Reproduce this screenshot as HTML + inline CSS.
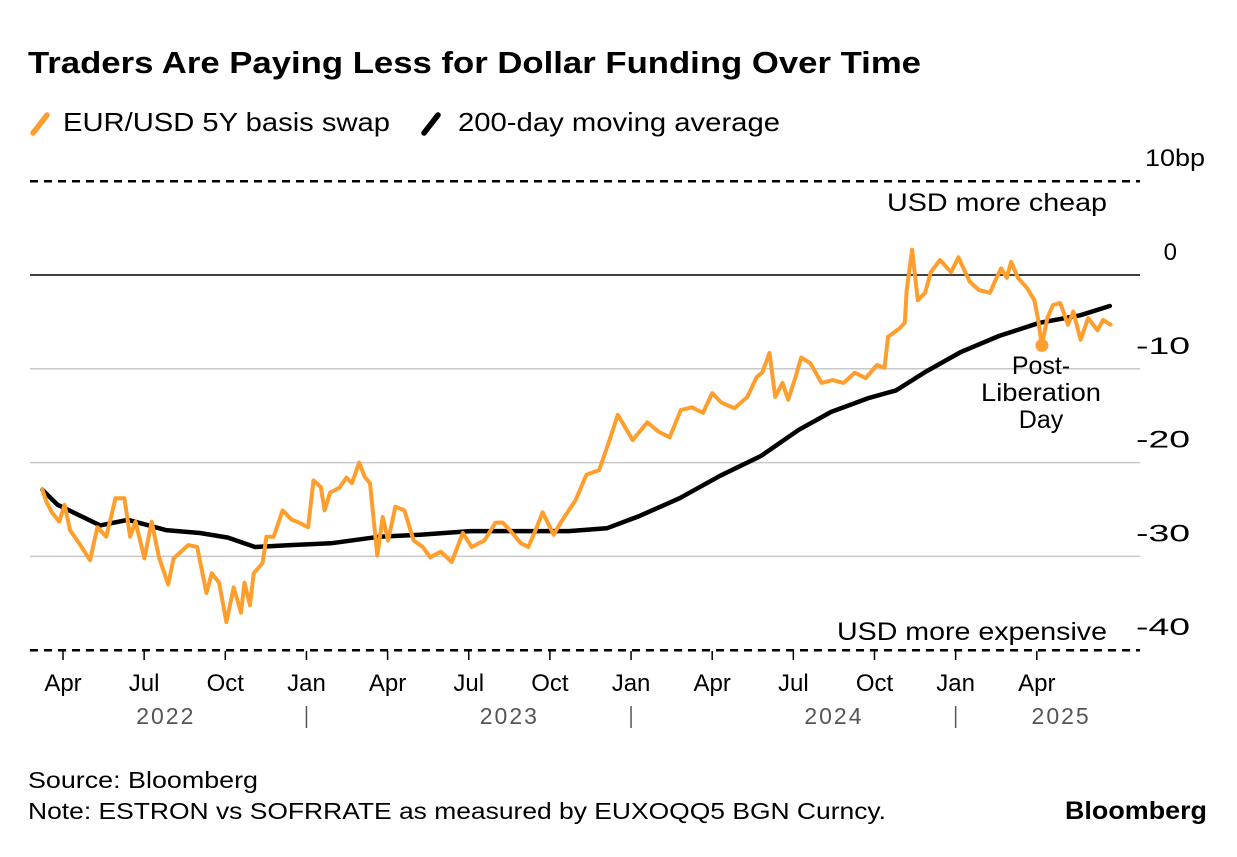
<!DOCTYPE html>
<html><head><meta charset="utf-8">
<style>
body{margin:0;background:#fff;font-family:"Liberation Sans",sans-serif;}
svg text{font-family:"Liberation Sans",sans-serif;}
</style></head>
<body>
<svg id="chart" width="1237" height="852" viewBox="0 0 1237 852" xmlns="http://www.w3.org/2000/svg">
<text x="28" y="73" font-size="31" font-weight="bold" fill="#000" textLength="893" lengthAdjust="spacingAndGlyphs">Traders Are Paying Less for Dollar Funding Over Time</text>
<g>
<line x1="33" y1="133" x2="47" y2="115" stroke="#ff9e2c" stroke-width="5.5" stroke-linecap="round"/>
<text x="63" y="131" font-size="26" fill="#000" textLength="327" lengthAdjust="spacingAndGlyphs">EUR/USD 5Y basis swap</text>
<line x1="424" y1="133" x2="438" y2="115" stroke="#000" stroke-width="5.5" stroke-linecap="round"/>
<text x="458" y="131" font-size="26" fill="#000" textLength="322" lengthAdjust="spacingAndGlyphs">200-day moving average</text>
</g>
<g id="grid"></g>
<g id="series"></g>
<g id="xaxis"></g>
<text x="1107" y="211" font-size="25" text-anchor="end" fill="#000" textLength="220" lengthAdjust="spacingAndGlyphs">USD more cheap</text>
<text x="1107" y="640" font-size="25" text-anchor="end" fill="#000" textLength="270" lengthAdjust="spacingAndGlyphs">USD more expensive</text>
<g font-size="25" text-anchor="middle" fill="#000">
<text x="1041" y="374">Post-</text>
<text x="1041" y="401" textLength="120" lengthAdjust="spacingAndGlyphs">Liberation</text>
<text x="1041" y="428">Day</text>
</g>
<text x="28" y="788" font-size="23" fill="#000" textLength="230" lengthAdjust="spacingAndGlyphs">Source: Bloomberg</text>
<text x="28" y="819" font-size="23" fill="#000" textLength="858" lengthAdjust="spacingAndGlyphs">Note: ESTRON vs SOFRRATE as measured by EUXOQQ5 BGN Curncy.</text>
<text x="1207" y="819" font-size="25" font-weight="bold" text-anchor="end" fill="#000" textLength="142" lengthAdjust="spacingAndGlyphs">Bloomberg</text>
</svg>
<script>
// months since Jan 2022 (0 = Jan 1 2022)
const swapMonths=[2.24,2.39,2.59,2.86,3.06,3.26,3.6,4.0,4.27,4.6,4.94,5.27,5.48,5.68,6.01,6.28,6.55,6.89,7.09,7.63,7.96,8.3,8.5,8.77,9.04,9.31,9.58,9.71,9.91,10.05,10.38,10.52,10.79,11.12,11.46,11.73,12.06,12.26,12.53,12.67,12.87,13.21,13.48,13.68,13.95,14.15,14.35,14.62,14.82,15.02,15.29,15.62,15.96,16.3,16.57,16.97,17.37,17.78,18.11,18.58,18.99,19.26,19.52,19.93,20.2,20.47,20.73,21.14,21.4,21.95,22.35,22.82,23.17,23.51,24.06,24.6,25.01,25.43,25.84,26.25,26.66,27.0,27.34,27.82,28.3,28.64,28.85,29.12,29.33,29.6,29.81,30.08,30.29,30.63,31.04,31.45,31.86,32.27,32.68,33.09,33.37,33.5,33.92,34.12,34.19,34.39,34.6,34.87,35.08,35.42,35.83,36.1,36.52,36.86,37.27,37.48,37.68,37.89,38.05,38.3,38.64,38.91,39.05,39.19,39.39,39.6,39.87,40.15,40.35,40.62,40.9,41.24,41.45,41.73];
const swapValues=[-22.9,-24.2,-25.3,-26.3,-24.5,-27.2,-28.6,-30.4,-26.9,-27.9,-23.8,-23.8,-27.9,-26.3,-30.2,-26.3,-30.1,-33.0,-30.2,-28.8,-29.0,-33.9,-31.8,-32.8,-37.0,-33.3,-36.0,-32.8,-35.2,-31.8,-30.7,-27.9,-27.9,-25.1,-26.1,-26.4,-26.9,-21.9,-22.6,-25.1,-23.2,-22.7,-21.6,-22.2,-20.0,-21.5,-22.2,-29.9,-25.8,-28.3,-24.7,-25.1,-28.3,-29.0,-30.1,-29.5,-30.6,-27.5,-29.0,-28.3,-26.4,-26.4,-27.2,-28.6,-29.0,-27.2,-25.3,-27.7,-26.4,-24.0,-21.3,-20.8,-17.9,-14.9,-17.6,-15.7,-16.7,-17.3,-14.4,-14.1,-14.7,-12.6,-13.6,-14.2,-13.0,-10.9,-10.4,-8.3,-13.0,-11.5,-13.3,-10.9,-8.8,-9.4,-11.5,-11.2,-11.5,-10.4,-11.0,-9.6,-9.9,-6.6,-5.7,-5.1,-1.6,2.7,-2.7,-1.9,0.3,1.6,0.3,1.9,-0.7,-1.6,-1.9,-0.5,0.7,-0.3,1.4,-0.3,-1.4,-2.7,-4.8,-7.5,-4.6,-3.2,-3.0,-5.3,-3.9,-6.9,-4.6,-5.9,-4.8,-5.3];
const maMonths=[2.24,2.8,4.37,5.4,6.8,8.06,9.1,10.1,11.4,12.9,14.7,16.2,18.05,19.9,21.7,23.1,24.3,25.8,27.3,28.8,30.2,31.4,32.8,33.8,34.9,36.2,37.6,39.1,40.6,41.7];
const maValues=[-22.9,-24.5,-26.7,-26.1,-27.2,-27.5,-28.0,-29.0,-28.8,-28.6,-27.9,-27.7,-27.3,-27.3,-27.3,-27.0,-25.7,-23.8,-21.4,-19.3,-16.5,-14.6,-13.1,-12.3,-10.3,-8.2,-6.5,-5.1,-4.3,-3.3];
const yTicks=[10,0,-10,-20,-30,-40];
const yTickLabels=["10bp","0","-10","-20","-30","-40"];
const xTickMonths=[3,6,9,12,15,18,21,24,27,30,33,36,39];
const xTickLabels=["Apr","Jul","Oct","Jan","Apr","Jul","Oct","Jan","Apr","Jul","Oct","Jan","Apr"];
const yearLabels=["2022","2023","2024","2025"];
const yearMonths=[6.8,19.5,31.5,39.9];
const yearSepMonths=[12,24,36];
const postLibMonth=39.19, postLibValue=-7.5;

const NS="http://www.w3.org/2000/svg";
const X=m=>63+(m-3)*27.05;
const Y=v=>275-v*9.38;
function mk(tag,attrs,parent){const e=document.createElementNS(NS,tag);for(const k in attrs)e.setAttribute(k,attrs[k]);parent.appendChild(e);return e;}
const grid=document.getElementById('grid'),series=document.getElementById('series'),xa=document.getElementById('xaxis');
yTicks.forEach((v,i)=>{
  const dashed=(v===10||v===-40), zero=v===0;
  const ln=mk('line',{x1:30,x2:1140,y1:Y(v),y2:Y(v),stroke:dashed||zero?'#000':'#c8c8c8','stroke-width':dashed?2.5:1.5,'stroke-dasharray':dashed?'8,6':'none'},grid);
  
  
  const rx = v===10?1205:(v===0?1177:1190);
  const attrs={x:rx,y:Y(v)-15,'font-size':24,'text-anchor':'end',fill:'#000'};
  if(v<0){attrs.textLength=54;attrs.lengthAdjust='spacingAndGlyphs';}
  if(v===10){attrs.textLength=60;attrs.lengthAdjust='spacingAndGlyphs';}
  const t=mk('text',attrs,grid);
  t.textContent=yTickLabels[i];
  
  
});
function path(ms,vs){return ms.map((m,i)=>(i?'L':'M')+X(m).toFixed(1)+','+Y(vs[i]).toFixed(1)).join('');}
const ma=mk('path',{d:path(maMonths,maValues),fill:'none',stroke:'#000','stroke-width':4.5,'stroke-linejoin':'round','stroke-linecap':'round'},series);


const sw=mk('path',{d:path(swapMonths,swapValues),fill:'none',stroke:'#ff9e2c','stroke-width':4,'stroke-linejoin':'round','stroke-linecap':'round'},series);


const dot=mk('circle',{cx:X(postLibMonth),cy:Y(postLibValue),r:6.5,fill:'#ff9e2c'},series);


xTickMonths.forEach((m,i)=>{
  const tk=mk('line',{x1:X(m),x2:X(m),y1:651,y2:660,stroke:'#000','stroke-width':1.5},xa);
  
  
  const t=mk('text',{x:X(m),y:691,'font-size':24,'text-anchor':'middle',fill:'#000'},xa);
  t.textContent=xTickLabels[i];
  
  
});
yearLabels.forEach((y,i)=>{
  const t=mk('text',{x:X(yearMonths[i]),y:724,'font-size':23,'text-anchor':'middle',fill:'#555','letter-spacing':'2'},xa);
  t.textContent=y;
  
  
});
yearSepMonths.forEach(m=>{
  const s=mk('line',{x1:X(m),x2:X(m),y1:706,y2:728,stroke:'#555','stroke-width':1.5},xa);
  
  
});
</script>
</body></html>
